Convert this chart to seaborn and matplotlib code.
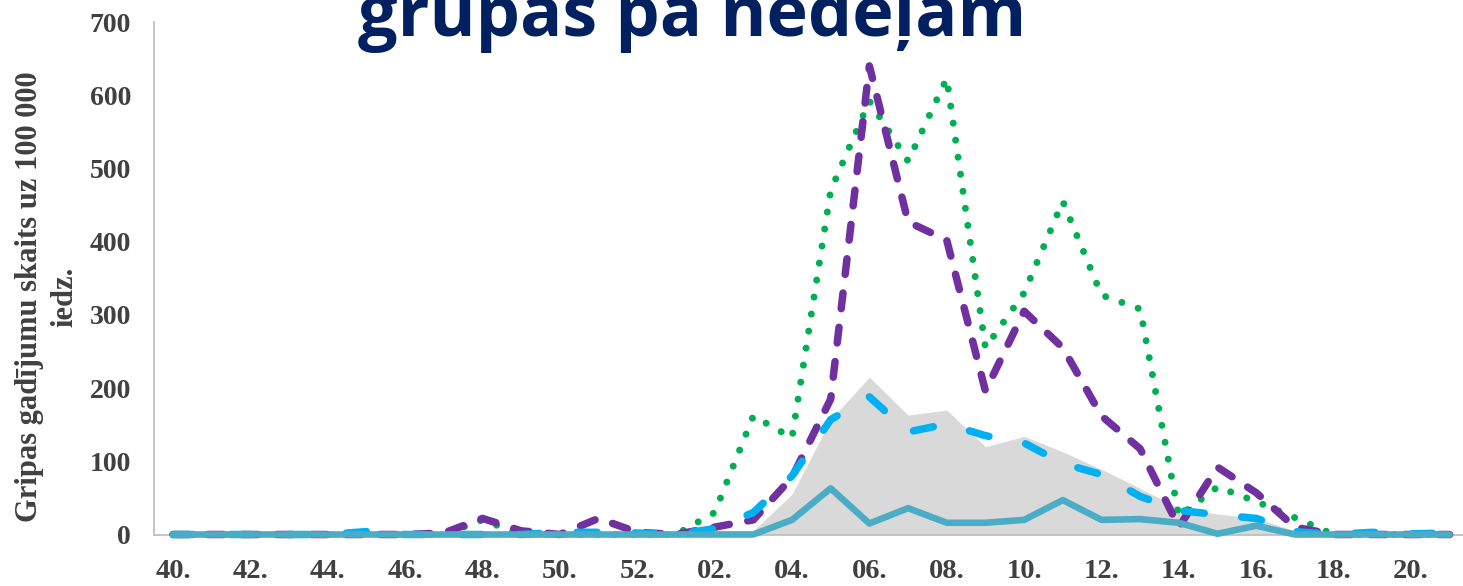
import numpy as np
import pandas as pd
import matplotlib
matplotlib.use('Agg')
import matplotlib.pyplot as plt
import seaborn as sns

# Weeks of the flu season (40.-52. then 01.-21.)
weeks = ['40.', '41.', '42.', '43.', '44.', '45.', '46.', '47.', '48.', '49.', '50.', '51.', '52.',
         '01.', '02.', '03.', '04.', '05.', '06.', '07.', '08.', '09.', '10.', '11.', '12.',
         '13.', '14.', '15.', '16.', '17.', '18.', '19.', '20.', '21.']

# Incidence per 100 000 inhabitants
total_area = [0, 0, 0, 0, 0, 0, 0, 0, 0, 0, 0, 0, 0,
              0, 5, 5, 55, 157, 215, 163, 170, 120, 134, 113, 89,
              63, 36, 28, 22, 5, 0, 0, 0, 0]
group_green = [0, 0, 0, 0, 0, 0, 0, 0, 20, 0, 0, 0, 0,
               0, 30, 162, 132, 470, 592, 510, 623, 255, 330, 455, 327,
               308, 25, 65, 45, 23, 0, 0, 0, 0]
group_purple = [0, 0, 0, 0, 0, 0, 0, 2, 22, 5, 0, 22, 3,
                0, 10, 20, 78, 185, 640, 427, 402, 196, 305, 255, 162,
                117, 10, 92, 57, 10, 0, 0, 0, 0]
group_blue = [0, 0, 0, 0, 0, 4, 0, 0, 0, 0, 3, 3, 2,
              0, 8, 30, 80, 157, 188, 140, 151, 135, 125, 97, 82,
              52, 33, 27, 22, 4, 0, 3, 1, 2]
group_teal = [0, 0, 0, 0, 0, 0, 0, 0, 0, 0, 0, 0, 0,
              0, 0, 0, 20, 63, 15, 36, 16, 16, 20, 47, 20,
              21, 16, 1, 12, 0, 0, 0, 0, 0]

y_ticks = [0, 100, 200, 300, 400, 500, 600, 700]

df = pd.DataFrame({
    'week_idx': np.arange(len(weeks)),
    'total': total_area,
    'green': group_green,
    'purple': group_purple,
    'blue': group_blue,
    'teal': group_teal,
})

sns.set_style('white')
plt.rcParams['font.family'] = ['Liberation Serif', 'DejaVu Serif']

W, H = 1463, 586
fig = plt.figure(figsize=(W / 100, H / 100), dpi=100)
# axes box in pixels: x from 153.7 to 1469, y from 22 (700) to 534.5 (0)
ax = fig.add_axes([153.7 / W, (H - 534.5) / H, (1469 - 153.7) / W, (534.5 - 22) / H])

# grey area in the background
ax.fill_between(df['week_idx'], df['total'], 0, color='#D9D9D9', linewidth=0, zorder=1)

px = 0.72  # points per pixel at 100 dpi

sns.lineplot(data=df, x='week_idx', y='green', ax=ax, color='#00B050', linewidth=7 * px,
             linestyle=(0, (0.01, 2.45)), dash_capstyle='round', solid_joinstyle='round',
             clip_on=False, zorder=4)
sns.lineplot(data=df, x='week_idx', y='purple', ax=ax, color='#7030A0', linewidth=7.5 * px,
             linestyle=(0, (2.1, 2.5)), dash_capstyle='round', dash_joinstyle='round',
             clip_on=False, zorder=5)
sns.lineplot(data=df, x='week_idx', y='blue', ax=ax, color='#00B0F0', linewidth=7.5 * px,
             linestyle=(0, (2.7, 5.0)), dash_capstyle='round', dash_joinstyle='round',
             clip_on=False, zorder=6)
sns.lineplot(data=df, x='week_idx', y='teal', ax=ax, color='#4BACC6', linewidth=6.6 * px,
             solid_capstyle='round', solid_joinstyle='round', clip_on=False, zorder=7)

ax.set_xlim(-0.5, len(weeks) - 0.5)
ax.set_ylim(0, 700)

# x axis: labels every other week, tick marks between categories
ax.set_xticks(np.arange(0, len(weeks), 2))
ax.set_xticklabels(weeks[::2])
ax.set_xticks(np.arange(-0.5, len(weeks), 1), minor=True)
ax.tick_params(axis='x', which='major', length=0, pad=17.5, labelsize=20.5, labelcolor='#404040')
ax.tick_params(axis='x', which='minor', length=10 * px, width=1.3, color='#BFBFBF', direction='out')

ax.set_yticks(y_ticks)
ax.tick_params(axis='y', which='major', length=8 * px, width=1.3, color='#BFBFBF',
               pad=10.5, labelsize=20, labelcolor='#404040', direction='out')
for lab in ax.get_xticklabels() + ax.get_yticklabels():
    lab.set_fontweight('bold')

for side in ['top', 'right']:
    ax.spines[side].set_visible(False)
for side in ['left', 'bottom']:
    ax.spines[side].set_color('#BFBFBF')
    ax.spines[side].set_linewidth(1.3)

ax.set_xlabel('')
ax.set_ylabel('')

# y axis title, two lines
fig.text(47 / W, 1 - 297 / H, 'Gripas gadījumu skaits uz 100 000\niedz.', rotation=90,
         ha='center', va='center', multialignment='center', fontsize=22,
         fontweight='bold', color='#404040', linespacing=1.3)

# title, cut off at the top of the picture
fig.text(692 / W, 1 - 36 / H, 'grupas pa nedeļām', ha='center', va='baseline',
         fontsize=50.5, fontweight='bold', color='#002060', family=['Open Sans', 'DejaVu Sans'])

fig.savefig('out.png', dpi=100)
plt.close(fig)
